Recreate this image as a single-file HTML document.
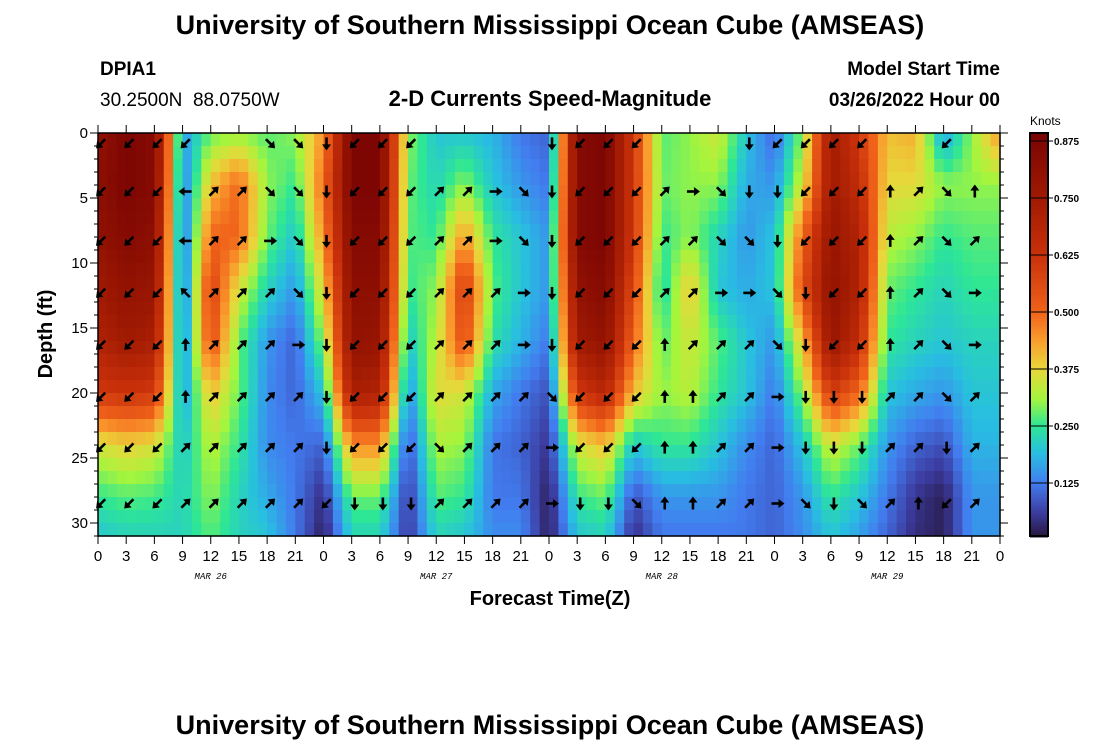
<!DOCTYPE html>
<html><head><meta charset="utf-8"><style>
body{margin:0;background:#fff;width:1100px;height:750px;overflow:hidden;font-family:"Liberation Sans",sans-serif}
</style></head><body>
<svg id="c" width="1100" height="750" xmlns="http://www.w3.org/2000/svg">
<text x="550" y="34" text-anchor="middle" font-size="27" font-weight="bold">University of Southern Mississippi Ocean Cube (AMSEAS)</text>
<text x="100" y="75" font-size="19" font-weight="bold">DPIA1</text>
<text x="100" y="106" font-size="19">30.2500N&#160;&#160;88.0750W</text>
<text x="550" y="106" text-anchor="middle" font-size="22" font-weight="bold">2-D Currents Speed-Magnitude</text>
<text x="1000" y="75" text-anchor="end" font-size="19" font-weight="bold">Model Start Time</text>
<text x="1000" y="106" text-anchor="end" font-size="19" font-weight="bold">03/26/2022 Hour 00</text>
<g id="heat"></g>
<g id="arrows"></g>
<g id="axes"></g>
<text transform="translate(52,334) rotate(-90)" text-anchor="middle" font-size="20" font-weight="bold">Depth (ft)</text>
<text x="550" y="605" text-anchor="middle" font-size="20" font-weight="bold">Forecast Time(Z)</text>
<text x="1030" y="125" font-size="12">Knots</text>
<g id="cbar"></g>
<text x="550" y="734" text-anchor="middle" font-size="27" font-weight="bold">University of Southern Mississippi Ocean Cube (AMSEAS)</text>
</svg>
<script>
const times=[0,3,6,9,12,15,18,21,24,27,30,33,36,39,42,45,48,51,54,57,60,63,66,69,72,75,78,81,84,87,90,93,96];
const depths=[0,4,8,12,16,20,24,28,31];
const speed=[
[0.8,0.82,0.8,0.75,0.7,0.6,0.35,0.25,0.2],
[0.88,0.88,0.85,0.8,0.75,0.62,0.38,0.27,0.22],
[0.85,0.85,0.82,0.78,0.72,0.6,0.36,0.26,0.22],
[0.15,0.12,0.1,0.1,0.12,0.15,0.2,0.22,0.22],
[0.28,0.4,0.5,0.58,0.55,0.4,0.33,0.3,0.27],
[0.3,0.5,0.5,0.35,0.28,0.28,0.25,0.22,0.22],
[0.27,0.3,0.28,0.22,0.15,0.14,0.14,0.17,0.2],
[0.3,0.25,0.2,0.15,0.1,0.1,0.12,0.12,0.12],
[0.45,0.5,0.45,0.38,0.3,0.2,0.1,0.04,0.02],
[0.88,0.88,0.85,0.82,0.8,0.72,0.45,0.28,0.22],
[0.88,0.88,0.85,0.82,0.78,0.7,0.45,0.28,0.22],
[0.3,0.28,0.27,0.25,0.2,0.14,0.08,0.05,0.05],
[0.2,0.22,0.25,0.3,0.33,0.37,0.32,0.27,0.22],
[0.2,0.3,0.45,0.6,0.55,0.35,0.3,0.25,0.2],
[0.18,0.2,0.25,0.27,0.24,0.17,0.12,0.12,0.14],
[0.12,0.15,0.2,0.2,0.18,0.12,0.1,0.12,0.14],
[0.1,0.12,0.15,0.15,0.12,0.08,0.05,0.02,0.02],
[0.85,0.85,0.85,0.8,0.75,0.6,0.35,0.25,0.2],
[0.88,0.88,0.88,0.85,0.8,0.68,0.4,0.28,0.22],
[0.6,0.6,0.6,0.55,0.5,0.4,0.2,0.08,0.04],
[0.27,0.28,0.25,0.22,0.27,0.3,0.25,0.15,0.12],
[0.3,0.3,0.3,0.4,0.35,0.33,0.25,0.15,0.12],
[0.35,0.3,0.22,0.2,0.27,0.25,0.2,0.15,0.12],
[0.2,0.17,0.15,0.17,0.2,0.2,0.14,0.12,0.12],
[0.1,0.15,0.2,0.2,0.15,0.12,0.1,0.1,0.1],
[0.3,0.35,0.5,0.55,0.4,0.3,0.2,0.15,0.14],
[0.75,0.75,0.78,0.8,0.78,0.6,0.35,0.25,0.2],
[0.6,0.65,0.7,0.7,0.65,0.5,0.28,0.2,0.16],
[0.4,0.37,0.33,0.28,0.25,0.2,0.15,0.12,0.1],
[0.42,0.37,0.3,0.25,0.22,0.17,0.1,0.05,0.04],
[0.15,0.3,0.25,0.22,0.2,0.15,0.08,0.02,0.02],
[0.3,0.3,0.27,0.25,0.22,0.2,0.18,0.15,0.15],
[0.45,0.3,0.27,0.25,0.22,0.2,0.18,0.15,0.15]];
const arrowDepths=[0.8,4.5,8.3,12.3,16.3,20.3,24.2,28.5];
const arrowTimes=[0,3,6,9,12,15,18,21,24,27,30,33,36,39,42,45,48,51,54,57,60,63,66,69,72,75,78,81,84,87,90,93];
// direction codes: 0=N,1=NE,...,7=NW, x=none
const arrowDirs=[
"5555xx334555xxxx4555xxx45555xx5x",
"55561133455511234555123445550130",
"55561123455511234555113345550131",
"55571113455511124555112234550132",
"55501112455511124555011134550132",
"55501111455511113555001124441131",
"55511111455531112555001124441141",
"55511111544411112443001123431051"];
const xTicks=["0","3","6","9","12","15","18","21","0","3","6","9","12","15","18","21","0","3","6","9","12","15","18","21","0","3","6","9","12","15","18","21","0"];
const yTicks=[0,5,10,15,20,25,30];
const dateLabels=["MAR 26","MAR 27","MAR 28","MAR 29"];
const cbTicks=[0.125,0.25,0.375,0.5,0.625,0.75,0.875];

const X0=98,X1=1000,Y0=133,Y1=536;
const xs=t=>X0+(X1-X0)*t/96;
const ys=d=>Y0+(Y1-Y0)*d/31;
const stops=[[0,[35,18,50]],[0.06,[60,60,160]],[0.125,[66,125,240]],[0.19,[40,190,225]],[0.25,[45,230,150]],[0.31,[165,245,60]],[0.375,[232,215,58]],[0.44,[250,155,45]],[0.5,[240,98,26]],[0.625,[200,48,10]],[0.75,[160,26,2]],[0.89,[122,4,3]]];
function col(v){
 if(v<=stops[0][0])return `rgb(${stops[0][1]})`;
 for(let i=1;i<stops.length;i++){if(v<=stops[i][0]){const a=stops[i-1],b=stops[i],f=(v-a[0])/(b[0]-a[0]);
 return `rgb(${a[1].map((c,k)=>Math.round(c+(b[1][k]-c)*f)).join(',')})`;}}
 return `rgb(${stops[stops.length-1][1]})`;}
function interp(arr,v){let i=0;while(i<arr.length-2&&v>arr[i+1])i++;return [i,(v-arr[i])/(arr[i+1]-arr[i])];}
function val(t,d){const [i,ft]=interp(times,t),[j,fd]=interp(depths,d);
 const a=speed[i][j]*(1-fd)+speed[i][j+1]*fd,b=speed[i+1][j]*(1-fd)+speed[i+1][j+1]*fd;return a*(1-ft)+b*ft;}
const NS='http://www.w3.org/2000/svg';
function mk(tag,attrs,parent){const e=document.createElementNS(NS,tag);for(const k in attrs)e.setAttribute(k,attrs[k]);parent.appendChild(e);return e;}
const heat=document.getElementById('heat');
for(let t=0;t<96;t++){for(let d=0;d<31;d++){
 const r=mk('rect',{x:xs(t),y:ys(d),width:xs(t+1)-xs(t)+0.6,height:ys(d+1)-ys(d)+0.6,fill:col(val(t+0.5,d+0.5))},heat);
 
 
}}
const ar=document.getElementById('arrows');
arrowDirs.forEach((row,ri)=>{row.split('').forEach((c,ci)=>{
 if(c==='x'||ci>=arrowTimes.length)return;
 const ang=parseInt(c)*45,cx=xs(arrowTimes[ci])+3,cy=ys(arrowDepths[ri]);
 const g=mk('g',{transform:`translate(${cx},${cy}) rotate(${ang})`},ar);
 
 
 mk('line',{x1:0,y1:6,x2:0,y2:-2,stroke:'#000','stroke-width':2.6},g);
 mk('polygon',{points:'0,-7 -4.5,-1 4.5,-1',fill:'#000'},g);
});});
const ax=document.getElementById('axes');
const fr=mk('rect',{x:X0,y:Y0,width:X1-X0,height:Y1-Y0,fill:'none',stroke:'#000','stroke-width':1.5},ax);


for(let d=0;d<=31;d++){const maj=d%5===0,L=maj?8:4,y=ys(d);
 mk('line',{x1:X0-L,y1:y,x2:X0,y2:y,stroke:'#000','stroke-width':1},ax);
 mk('line',{x1:X1,y1:y,x2:X1+L,y2:y,stroke:'#000','stroke-width':1},ax);}
yTicks.forEach(d=>{const t=mk('text',{x:X0-10,y:ys(d)+5,'text-anchor':'end','font-size':15},ax);t.textContent=d;
 
 });
xTicks.forEach((lab,i)=>{const x=xs(i*3);
 mk('line',{x1:x,y1:Y1,x2:x,y2:Y1+8,stroke:'#000'},ax);
 mk('line',{x1:x,y1:Y0-8,x2:x,y2:Y0,stroke:'#000'},ax);
 const t=mk('text',{x:x,y:Y1+25,'text-anchor':'middle','font-size':15},ax);t.textContent=lab;
 
 });
dateLabels.forEach((lab,i)=>{const t=mk('text',{x:xs(i*24+12),y:579,'text-anchor':'middle','font-size':9,'font-style':'italic','font-family':'Liberation Mono, monospace'},ax);t.textContent=lab;
 
 });
const cb=document.getElementById('cbar');
const CB0=133,CB1=536,CX=1030,CW=18;
const cy=v=>540-v*(57/0.125);
for(let y=CB0;y<CB1;y+=2){const v=(540-y-1)*0.125/57;mk('rect',{x:CX,y:y,width:CW,height:2.5,fill:col(v)},cb);}
mk('rect',{x:CX,y:CB0,width:CW,height:CB1-CB0,fill:'none',stroke:'#000','stroke-width':2},cb);
cbTicks.forEach(v=>{const y=cy(v);mk('line',{x1:CX,y1:y,x2:CX+CW+5,y2:y,stroke:'#000'},cb);
 const t=mk('text',{x:CX+CW+6,y:y+4,'font-size':10,'font-weight':'bold'},cb);t.textContent=v.toFixed(3);
 
 });
</script>
</body></html>
